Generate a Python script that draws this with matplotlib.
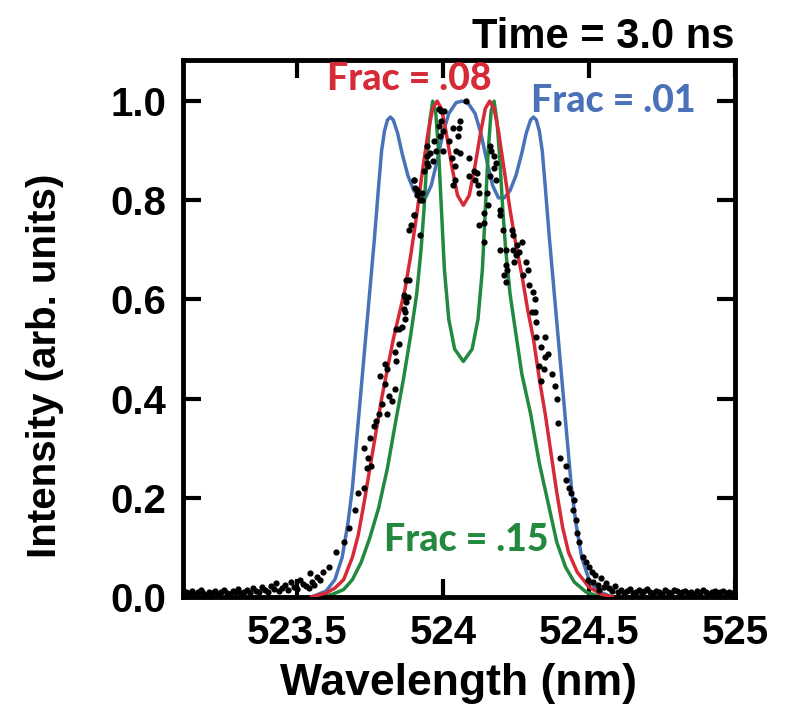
import matplotlib
matplotlib.use("Agg")
import matplotlib.pyplot as plt

# ── data ───────────────────────────────────────────────
# Frac = .01 (blue)
blue_x = [523.55, 523.60, 523.63, 523.655, 523.675, 523.69, 523.705, 523.72, 523.735,
          523.75, 523.765, 523.78, 523.79, 523.80, 523.81, 523.82, 523.83, 523.845,
          523.86, 523.88, 523.90, 523.92, 523.94, 523.96, 523.98, 524.00, 524.02,
          524.045, 524.065, 524.085, 524.11, 524.13, 524.15, 524.17, 524.19, 524.21,
          524.23, 524.25, 524.27, 524.285, 524.30, 524.31, 524.32, 524.33, 524.34,
          524.35, 524.365, 524.38, 524.395, 524.41, 524.425, 524.44, 524.455, 524.475,
          524.50, 524.53, 524.58]
blue_y = [0.0, 0.012, 0.035, 0.08, 0.15, 0.22, 0.32, 0.42, 0.52,
          0.62, 0.72, 0.83, 0.90, 0.94, 0.962, 0.968, 0.962, 0.935,
          0.895, 0.85, 0.82, 0.805, 0.805, 0.83, 0.88, 0.935, 0.975,
          0.997, 1.0, 0.997, 0.975, 0.935, 0.88, 0.83, 0.805, 0.805,
          0.82, 0.85, 0.895, 0.935, 0.962, 0.968, 0.962, 0.94, 0.90,
          0.83, 0.72, 0.62, 0.52, 0.42, 0.32, 0.22, 0.15, 0.08,
          0.035, 0.012, 0.0]

# Frac = .08 (red)
red_x = [523.55, 523.60, 523.63, 523.66, 523.69, 523.71, 523.73, 523.75, 523.77,
         523.79, 523.81, 523.83, 523.85, 523.87, 523.89, 523.91, 523.93, 523.95,
         523.965, 523.98, 523.995, 524.01, 524.03, 524.05, 524.07, 524.09, 524.11,
         524.13, 524.145, 524.16, 524.175, 524.19, 524.21, 524.23, 524.25, 524.27,
         524.29, 524.31, 524.33, 524.35, 524.37, 524.39, 524.41, 524.43, 524.46,
         524.50, 524.54, 524.58]
red_y = [0.0, 0.008, 0.018, 0.035, 0.08, 0.125, 0.19, 0.26, 0.33,
         0.40, 0.46, 0.52, 0.57, 0.62, 0.69, 0.77, 0.86, 0.94,
         0.985, 1.0, 0.985, 0.94, 0.87, 0.81, 0.79, 0.81, 0.87,
         0.94, 0.985, 1.0, 0.985, 0.94, 0.86, 0.78, 0.71, 0.65,
         0.58, 0.52, 0.44, 0.37, 0.29, 0.21, 0.14, 0.09, 0.05,
         0.02, 0.006, 0.0]

# Frac = .15 (green)
green_x = [523.58, 523.62, 523.66, 523.69, 523.72, 523.75, 523.78, 523.81, 523.84,
           523.865, 523.89, 523.91, 523.925, 523.935, 523.945, 523.955, 523.965,
           523.975, 523.985, 523.995, 524.005, 524.02, 524.04, 524.07, 524.10,
           524.12, 524.135, 524.145, 524.155, 524.165, 524.175, 524.185, 524.195,
           524.205, 524.215, 524.23, 524.25, 524.27, 524.30, 524.33, 524.36,
           524.39, 524.42, 524.45, 524.49, 524.54]
green_y = [0.0, 0.005, 0.015, 0.035, 0.07, 0.12, 0.18, 0.26, 0.36,
           0.44, 0.53, 0.61, 0.70, 0.78, 0.88, 0.96, 1.0,
           0.98, 0.90, 0.78, 0.66, 0.56, 0.50, 0.475, 0.50,
           0.56, 0.66, 0.78, 0.90, 0.98, 1.0, 0.96, 0.88,
           0.78, 0.70, 0.61, 0.53, 0.45, 0.37, 0.27, 0.19,
           0.11, 0.06, 0.03, 0.01, 0.0]

# measured points (black dots)
base_left_x = [523.12, 523.13, 523.14, 523.15, 523.16, 523.17, 523.18, 523.19, 523.20,
               523.21, 523.22, 523.23, 523.24, 523.25, 523.26, 523.27, 523.28, 523.29,
               523.30, 523.31, 523.32, 523.33, 523.34, 523.35, 523.36, 523.37, 523.38,
               523.39, 523.40, 523.41, 523.42, 523.43, 523.44, 523.45, 523.46, 523.47,
               523.48, 523.49, 523.50, 523.51, 523.52, 523.53, 523.54, 523.545, 523.55,
               523.56, 523.57, 523.58, 523.59]
base_left_y = [0.010, 0.008, 0.012, 0.006, 0.010, 0.014, 0.008, 0.005, 0.011,
               0.009, 0.013, 0.007, 0.010, 0.015, 0.009, 0.006, 0.012, 0.010,
               0.016, 0.008, 0.011, 0.014, 0.009, 0.018, 0.012, 0.010, 0.020,
               0.014, 0.011, 0.022, 0.016, 0.028, 0.013, 0.019, 0.024, 0.015,
               0.030, 0.020, 0.017, 0.034, 0.026, 0.022, 0.018, 0.048, 0.030,
               0.025, 0.040, 0.035, 0.050]
peak_x = [523.61, 523.635, 523.66, 523.68, 523.70, 523.71, 523.73, 523.74, 523.745,
          523.755, 523.73, 523.75, 523.765, 523.77, 523.78, 523.81, 523.79, 523.825,
          523.815, 523.835, 523.80, 523.785, 523.81, 523.80, 523.84, 523.835, 523.85,
          523.84, 523.85, 523.87, 523.865, 523.875, 523.88, 523.87, 523.885, 523.86,
          523.87, 523.865, 523.875, 523.92, 523.885, 523.90, 523.93, 523.91, 523.905,
          523.90, 523.935, 523.95, 523.945, 523.965, 523.975, 523.97, 523.99, 524.00,
          523.985, 524.00, 523.995, 523.985, 524.005, 523.90, 523.91, 523.93, 523.92,
          523.90, 523.89, 523.945, 523.955, 523.945, 523.995, 524.02, 524.035, 524.055,
          524.06, 524.08, 524.05, 524.045, 524.06, 524.03, 524.04, 524.09, 524.105,
          524.09, 524.115, 524.11, 524.12, 524.035, 524.04, 524.125, 524.15, 524.16,
          524.165, 524.175, 524.18, 524.175, 524.16, 524.18, 524.155, 524.14, 524.14,
          524.125, 524.14, 524.195, 524.195, 524.205, 524.235, 524.24, 524.195, 524.215,
          524.24, 524.255, 524.27, 524.26, 524.25, 524.215, 524.22, 524.21, 524.285,
          524.29, 524.275, 524.215, 524.295, 524.31, 524.315, 524.315, 524.32, 524.245,
          524.305, 524.32, 524.35, 524.335, 524.36, 524.35, 524.33, 524.345, 524.375,
          524.335, 524.385, 524.39, 524.395, 524.40, 524.42, 524.42, 524.43, 524.44,
          524.45, 524.445, 524.455, 524.46, 524.465, 524.48, 524.49, 524.50, 524.51,
          524.495, 524.515, 524.52, 524.53, 524.54, 524.55, 524.535, 524.56]
peak_y = [0.06, 0.09, 0.11, 0.14, 0.175, 0.21, 0.22, 0.26, 0.28,
          0.265, 0.30, 0.32, 0.345, 0.355, 0.37, 0.37, 0.39, 0.395,
          0.405, 0.42, 0.43, 0.445, 0.46, 0.47, 0.475, 0.495, 0.51,
          0.54, 0.54, 0.56, 0.58, 0.595, 0.605, 0.605, 0.64, 0.545,
          0.575, 0.61, 0.64, 0.73, 0.74, 0.77, 0.80, 0.81, 0.825,
          0.84, 0.86, 0.87, 0.89, 0.88, 0.90, 0.92, 0.93, 0.90,
          0.95, 0.94, 0.98, 0.985, 0.98, 0.84, 0.82, 0.815, 0.80,
          0.77, 0.75, 0.875, 0.895, 0.91, 0.96, 0.92, 0.945, 0.945,
          0.96, 1.0, 0.93, 0.90, 0.895, 0.885, 0.87, 0.885, 0.86,
          0.85, 0.855, 0.84, 0.83, 0.83, 0.84, 0.815, 0.815, 0.91,
          0.90, 0.89, 0.875, 0.865, 0.85, 0.84, 0.79, 0.775, 0.755,
          0.75, 0.715, 0.78, 0.77, 0.74, 0.74, 0.73, 0.70, 0.70,
          0.70, 0.71, 0.715, 0.695, 0.69, 0.67, 0.66, 0.65, 0.675,
          0.66, 0.65, 0.635, 0.63, 0.615, 0.60, 0.575, 0.555, 0.675,
          0.575, 0.525, 0.525, 0.505, 0.49, 0.485, 0.465, 0.46, 0.45,
          0.435, 0.425, 0.40, 0.35, 0.28, 0.265, 0.235, 0.22, 0.21,
          0.195, 0.175, 0.155, 0.13, 0.11, 0.08, 0.07, 0.06, 0.05,
          0.035, 0.03, 0.045, 0.025, 0.038, 0.02, 0.015, 0.028]
base_right_x = [524.57, 524.58, 524.59, 524.60, 524.61, 524.62, 524.63, 524.64, 524.65,
                524.66, 524.67, 524.68, 524.69, 524.70, 524.71, 524.72, 524.73, 524.74,
                524.75, 524.76, 524.77, 524.78, 524.79, 524.80, 524.81, 524.82, 524.83,
                524.84, 524.85, 524.86, 524.87, 524.88, 524.89, 524.90, 524.91, 524.92,
                524.93, 524.94, 524.95, 524.96, 524.97, 524.98, 524.99]
base_right_y = [0.018, 0.012, 0.022, 0.010, 0.015, 0.008, 0.013, 0.017, 0.009,
                0.011, 0.014, 0.007, 0.012, 0.016, 0.010, 0.008, 0.013, 0.011,
                0.006, 0.014, 0.010, 0.009, 0.015, 0.012, 0.007, 0.010, 0.013,
                0.008, 0.011, 0.006, 0.012, 0.009, 0.014, 0.010, 0.007, 0.011,
                0.013, 0.008, 0.010, 0.012, 0.009, 0.011, 0.008]

x_ticks = [523.5, 524, 524.5, 525]
x_ticklabels = ["523.5", "524", "524.5", "525"]
y_ticks = [0.0, 0.2, 0.4, 0.6, 0.8, 1.0]

BLUE = "#4a72b8"
RED = "#d62b36"
GREEN = "#23893f"

plt.rcParams["font.family"] = ["Liberation Sans", "DejaVu Sans"]
plt.rcParams["font.weight"] = "bold"

fig = plt.figure(figsize=(7.88, 7.21), dpi=100)
ax = fig.add_axes([183 / 788, 1 - 597 / 721, (735 - 183) / 788, (597 - 60) / 721])

ax.plot(blue_x, blue_y, color=BLUE, lw=2.5, zorder=2)
ax.plot(red_x, red_y, color=RED, lw=2.5, zorder=3)
ax.plot(green_x, green_y, color=GREEN, lw=2.5, zorder=2)
for xs, ys in [(base_left_x, base_left_y), (peak_x, peak_y), (base_right_x, base_right_y)]:
    ax.plot(xs, ys, "o", color="black", ms=4.5, mec="none", zorder=4)

ax.set_xlim(523.11, 525.0)
ax.set_ylim(0.0, 1.083)
ax.set_xticks(x_ticks)
ax.set_xticklabels(x_ticklabels)
ax.set_yticks(y_ticks)
ax.set_yticklabels([f"{v:.1f}" for v in y_ticks])
ax.tick_params(direction="in", length=13, width=3, top=True, right=True,
               labelsize=29, pad=12)
for sp in ax.spines.values():
    sp.set_linewidth(3.5)

ax.set_xlabel("Wavelength (nm)", fontsize=32, fontweight="bold", labelpad=8)
ax.set_ylabel("Intensity (arb. units)", fontsize=29, fontweight="bold")
ax.yaxis.set_label_coords(-0.215, 0.43)

ax.text(1.0, 1.005, "Time = 3.0 ns", transform=ax.transAxes, ha="right", va="bottom",
        fontsize=30, fontweight="bold")

lab_font = ["Lato", "DejaVu Sans"]
ax.text(523.885, 1.045, "Frac = .08", color=RED, ha="center", va="center",
        fontsize=27, fontweight="black", family=lab_font)
ax.text(524.585, 1.0, "Frac = .01", color=BLUE, ha="center", va="center",
        fontsize=27, fontweight="black", family=lab_font)
ax.text(524.08, 0.115, "Frac = .15", color=GREEN, ha="center", va="center",
        fontsize=27, fontweight="black", family=lab_font)

fig.savefig("out.png", dpi=100)
